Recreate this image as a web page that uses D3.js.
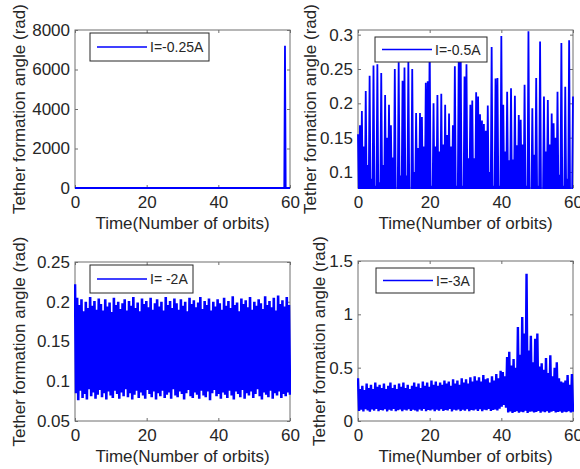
<!DOCTYPE html>
<html>
<head>
<meta charset="utf-8">
<script src="https://cdn.jsdelivr.net/npm/d3@7"></script>
<style>
body { margin: 0; background: #fff; }
text { font-family: Arial, "Liberation Sans", sans-serif; fill: #262626; }
</style>
</head>
<body>
<svg id="fig" width="580" height="469"></svg>
<script>
var xTicks = [0, 20, 40, 60];

// I = -0.25A : flat at zero, then blows up just before orbit 59
var tlTime = [0, 58.4, 58.6, 58.8, 60];
var tlAngle = [0, 0, 7200, 0, 0];
var tlTicks = [0, 2000, 4000, 6000, 8000];

// I = -0.5A : successive swing peaks, the angle drops below the axis between them
var trPeaks = [
  0.155, 0.168, 0.189, 0.137, 0.218, 0.110, 0.240, 0.090, 0.255, 0.080,
  0.257, 0.085, 0.244, 0.110, 0.212, 0.150, 0.198, 0.168, 0.121, 0.250,
  0.070, 0.260, 0.095, 0.233, 0.252, 0.095, 0.262, 0.070, 0.250, 0.100,
  0.186, 0.135, 0.186, 0.180, 0.137, 0.230,
  0.232, 0.296, 0.080, 0.200, 0.137, 0.212, 0.130, 0.214, 0.140, 0.198,
  0.154, 0.185, 0.137, 0.168, 0.254, 0.080, 0.262, 0.282, 0.080, 0.239,
  0.257, 0.120, 0.198, 0.204, 0.120, 0.216, 0.210, 0.184, 0.175, 0.170,
  0.160, 0.197, 0.100, 0.282, 0.080, 0.236,
  0.237, 0.080, 0.298, 0.198, 0.130, 0.217, 0.117, 0.222, 0.118, 0.211,
  0.139, 0.183, 0.176, 0.140, 0.227, 0.080, 0.305, 0.075, 0.193, 0.125,
  0.237, 0.080, 0.290, 0.075, 0.210, 0.130, 0.205, 0.140, 0.185, 0.171,
  0.150, 0.217, 0.096, 0.288, 0.080, 0.224, 0.090, 0.292, 0.075, 0.210
];
var trFloor = 0.06;
var trTicks = [0.1, 0.15, 0.2, 0.25, 0.3];

// I = -2A : upper and lower turning points of the fast oscillation
var blHigh = [
  0.222, 0.205, 0.196, 0.203, 0.188, 0.200, 0.192, 0.206, 0.195, 0.201,
  0.190, 0.204, 0.197, 0.189, 0.203, 0.194, 0.199, 0.187, 0.205, 0.196,
  0.200, 0.191, 0.198, 0.203, 0.189, 0.201, 0.195, 0.206, 0.192, 0.199,
  0.188, 0.204, 0.197, 0.201, 0.193, 0.205, 0.190, 0.198, 0.203, 0.194,
  0.200, 0.189, 0.206, 0.196, 0.201, 0.192, 0.204, 0.198, 0.190, 0.203,
  0.195, 0.200, 0.188, 0.205, 0.197, 0.202, 0.193, 0.199, 0.206, 0.191,
  0.201, 0.196, 0.204, 0.189, 0.200, 0.194, 0.203, 0.198, 0.190, 0.205,
  0.195, 0.201, 0.192, 0.207, 0.196, 0.199, 0.188, 0.204, 0.197, 0.202,
  0.193, 0.206, 0.190, 0.200, 0.195, 0.203, 0.198, 0.191, 0.207, 0.196,
  0.201, 0.193, 0.205, 0.189, 0.208, 0.197, 0.202, 0.194, 0.206, 0.196
];
var blLow = [
  0.085, 0.076, 0.088, 0.079, 0.084, 0.077, 0.090, 0.081, 0.086, 0.078,
  0.083, 0.089, 0.080, 0.085, 0.077, 0.087, 0.082, 0.079, 0.088, 0.084,
  0.078, 0.086, 0.081, 0.090, 0.080, 0.085, 0.077, 0.083, 0.088, 0.079,
  0.086, 0.082, 0.078, 0.089, 0.084, 0.080, 0.087, 0.077, 0.085, 0.081,
  0.088, 0.079, 0.083, 0.086, 0.078, 0.090, 0.082, 0.080, 0.087, 0.084,
  0.077, 0.085, 0.089, 0.081, 0.079, 0.086, 0.083, 0.078, 0.088, 0.082,
  0.080, 0.087, 0.076, 0.085, 0.089, 0.081, 0.084, 0.078, 0.086, 0.083,
  0.079, 0.088, 0.082, 0.077, 0.087, 0.084, 0.080, 0.089, 0.078, 0.085,
  0.082, 0.087, 0.079, 0.084, 0.090, 0.081, 0.077, 0.086, 0.083, 0.080,
  0.088, 0.078, 0.085, 0.082, 0.087, 0.079, 0.084, 0.081, 0.086, 0.083
];
var blTicks = [0.05, 0.1, 0.15, 0.2, 0.25];

// I = -3A
var brHigh = [
  0.40, 0.30, 0.33, 0.29, 0.35, 0.31, 0.34, 0.30, 0.36, 0.32,
  0.34, 0.31, 0.35, 0.30, 0.33, 0.36, 0.31, 0.34, 0.30, 0.35,
  0.32, 0.36, 0.31, 0.34, 0.30, 0.33, 0.36, 0.32, 0.35, 0.31,
  0.37, 0.33, 0.36, 0.32, 0.38, 0.34, 0.37, 0.33, 0.36, 0.34,
  0.38, 0.35, 0.37, 0.33, 0.39, 0.35, 0.38, 0.34, 0.40, 0.36,
  0.39, 0.35, 0.41, 0.37, 0.42, 0.38, 0.41, 0.37, 0.43, 0.39,
  0.40, 0.36, 0.42, 0.38, 0.44, 0.40, 0.47, 0.46, 0.42, 0.60,
  0.65, 0.52, 0.58, 0.50, 0.88, 0.62, 0.975, 0.82, 1.38, 0.66,
  0.80, 0.55, 0.77, 0.82, 0.51, 0.54, 0.48, 0.59, 0.45, 0.616,
  0.42, 0.50, 0.55, 0.40, 0.37, 0.36, 0.38, 0.43, 0.34, 0.44
];
var brLow = [
  0.095, 0.105, 0.090, 0.110, 0.100, 0.088, 0.108, 0.097, 0.112, 0.092,
  0.104, 0.099, 0.110, 0.090, 0.106, 0.096, 0.113, 0.093, 0.102, 0.108,
  0.091, 0.105, 0.098, 0.111, 0.094, 0.107, 0.100, 0.089, 0.109, 0.097,
  0.112, 0.093, 0.104, 0.099, 0.108, 0.091, 0.106, 0.096, 0.110, 0.094,
  0.103, 0.098, 0.112, 0.090, 0.105, 0.100, 0.109, 0.093, 0.107, 0.096,
  0.111, 0.092, 0.104, 0.099, 0.108, 0.095, 0.110, 0.091, 0.106, 0.100,
  0.112, 0.094, 0.103, 0.108, 0.098, 0.115, 0.135, 0.150, 0.125, 0.080,
  0.090, 0.075, 0.085, 0.092, 0.078, 0.088, 0.082, 0.095, 0.076, 0.086,
  0.090, 0.079, 0.084, 0.093, 0.077, 0.089, 0.083, 0.091, 0.078, 0.087,
  0.094, 0.080, 0.085, 0.090, 0.077, 0.088, 0.083, 0.092, 0.079, 0.086
];
var brTicks = [0, 0.5, 1, 1.5];

// interleave turning points on an even time grid over 60 orbits
function swing(high, low) {
  var pts = [], total = high.length + low.length;
  high.forEach(function(h, i) {
    pts.push([2 * i * 60 / (total - 1), h]);
    if (i < low.length) pts.push([(2 * i + 1) * 60 / (total - 1), low[i]]);
  });
  return pts;
}

var panels = [
  {x0: 75, y0: 30, w: 215, h: 158, y: [0, 8000], ticks: tlTicks, titleX: 25,
   pts: d3.zip(tlTime, tlAngle), sw: 1.8, label: "I=-0.25A", leg: [90, 33, 119, 28]},
  {x0: 358, y0: 30, w: 215, h: 158, y: [0.0767, 0.3068], ticks: trTicks, titleX: 315.5,
   pts: swing(trPeaks, trPeaks.slice(1).map(function() { return trFloor; })), sw: 1.8,
   label: "I=-0.5A", leg: [375, 37, 112, 25]},
  {x0: 75, y0: 262, w: 215, h: 159, y: [0.05, 0.25], ticks: blTicks, titleX: 25,
   pts: swing(blHigh, blLow), sw: 2.6, label: "I= -2A", leg: [90, 265, 103, 28]},
  {x0: 358, y0: 261, w: 215, h: 160, y: [0, 1.5], ticks: brTicks, titleX: 325,
   pts: swing(brHigh, brLow), sw: 2.4, label: "I=-3A", leg: [376, 268, 98, 25]}
];

var svg = d3.select("#fig");
var fmt = d3.format("~g");

panels.forEach(function(p, k) {
  var x = d3.scaleLinear().domain([0, 60]).range([0, p.w]);
  var y = d3.scaleLinear().domain(p.y).range([p.h, 0]);
  var g = svg.append("g").attr("transform", "translate(" + p.x0 + "," + p.y0 + ")");

  g.append("clipPath").attr("id", "clip" + k)
    .append("rect").attr("x", -1).attr("y", -1).attr("width", p.w + 2).attr("height", p.h + 2);

  g.append("rect")
      .attr("width", p.w).attr("height", p.h)
      .attr("fill", "none").attr("stroke", "#6e6e6e").attr("stroke-width", 1);

  var axes = [
    g.append("g").attr("transform", "translate(0," + p.h + ")")
      .call(d3.axisBottom(x).tickValues(xTicks).tickSize(-3).tickSizeOuter(0).tickPadding(8).tickFormat(fmt)),
    g.append("g")
      .call(d3.axisLeft(y).tickValues(p.ticks).tickSize(-3).tickSizeOuter(0).tickPadding(5).tickFormat(fmt)),
    g.append("g")
      .call(d3.axisTop(x).tickValues(xTicks).tickSize(-3).tickSizeOuter(0).tickFormat("")),
    g.append("g").attr("transform", "translate(" + p.w + ",0)")
      .call(d3.axisRight(y).tickValues(p.ticks).tickSize(-3).tickSizeOuter(0).tickFormat(""))
  ];
  axes.forEach(function(a) {
    a.select(".domain").remove();
    a.selectAll("line").attr("stroke", "#6e6e6e");
    a.selectAll("text").attr("font-size", 17).attr("fill", "#262626")
      .attr("font-family", "Arial, 'Liberation Sans', sans-serif");
  });

  g.append("path")
      .datum(p.pts)
      .attr("clip-path", "url(#clip" + k + ")")
      .attr("fill", "none")
      .attr("stroke", "#0000ff")
      .attr("stroke-width", p.sw)
      .attr("stroke-linejoin", "miter")
      .attr("d", d3.line().x(function(d) { return x(d[0]); }).y(function(d) { return y(d[1]); }));

  svg.append("text")
      .attr("x", p.x0 + p.w / 2)
      .attr("y", p.y0 + p.h + 41)
      .attr("text-anchor", "middle")
      .attr("font-size", 17)
      .text("Time(Number of orbits)");

  svg.append("text")
      .attr("transform", "translate(" + p.titleX + "," + (p.y0 + p.h / 2) + ") rotate(-90)")
      .attr("text-anchor", "middle")
      .attr("font-size", 17)
      .text("Tether formation angle (rad)");

  var lg = svg.append("g").attr("transform", "translate(" + p.leg[0] + "," + p.leg[1] + ")");
  lg.append("rect")
      .attr("width", p.leg[2]).attr("height", p.leg[3])
      .attr("fill", "#fff").attr("stroke", "#262626").attr("stroke-width", 1);
  lg.append("line")
      .attr("x1", 7).attr("x2", 57)
      .attr("y1", p.leg[3] / 2).attr("y2", p.leg[3] / 2)
      .attr("stroke", "#0000ff").attr("stroke-width", 1.5);
  lg.append("text")
      .attr("x", 60)
      .attr("y", p.leg[3] / 2)
      .attr("dy", "0.36em")
      .attr("font-size", 14)
      .text(p.label);
});
</script>
</body>
</html>
